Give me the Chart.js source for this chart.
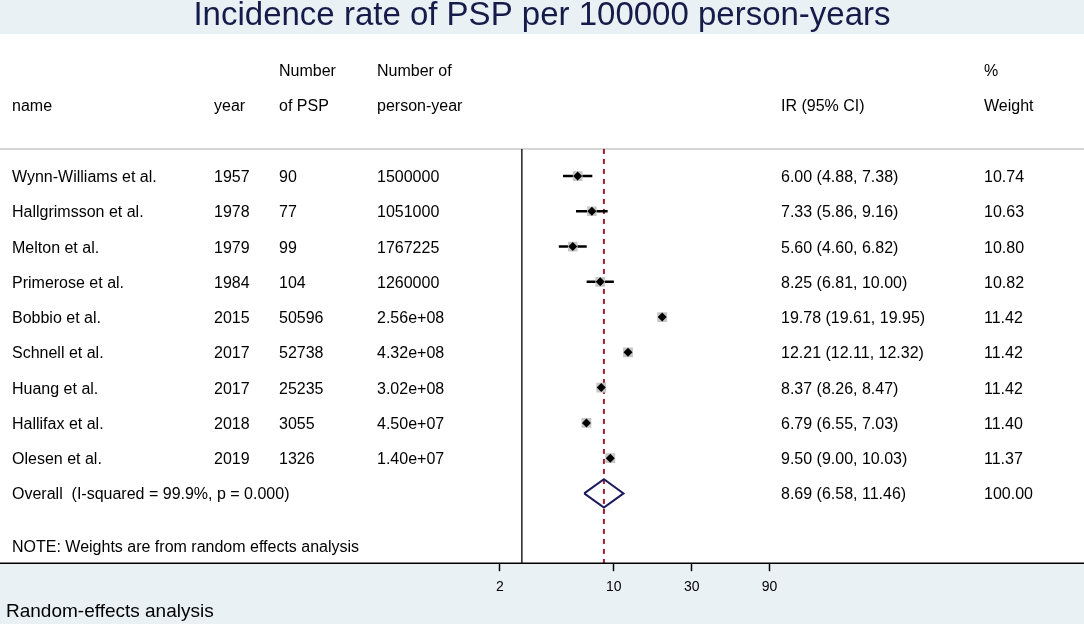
<!DOCTYPE html>
<html>
<head>
<meta charset="utf-8">
<script src="https://cdn.jsdelivr.net/npm/chart.js@4.4.1/dist/chart.umd.min.js"></script>
<style>
  html, body { margin: 0; padding: 0; background: #fff; }
  canvas { display: block; }
</style>
</head>
<body>
<canvas id="forest" width="1084" height="624"></canvas>
<script>
// 研究数据
const studies = ['Wynn-Williams et al.', 'Hallgrimsson et al.', 'Melton et al.', 'Primerose et al.', 'Bobbio et al.', 'Schnell et al.', 'Huang et al.', 'Hallifax et al.', 'Olesen et al.'];
const years = ['1957', '1978', '1979', '1984', '2015', '2017', '2017', '2018', '2019'];
const nPSP = ['90', '77', '99', '104', '50596', '52738', '25235', '3055', '1326'];
const personYears = ['1500000', '1051000', '1767225', '1260000', '2.56e+08', '4.32e+08', '3.02e+08', '4.50e+07', '1.40e+07'];
const ir = [6.00, 7.33, 5.60, 8.25, 19.78, 12.21, 8.37, 6.79, 9.50];
const ciLow = [4.88, 5.86, 4.60, 6.81, 19.61, 12.11, 8.26, 6.55, 9.00];
const ciHigh = [7.38, 9.16, 6.82, 10.00, 19.95, 12.32, 8.47, 7.03, 10.03];
const weights = [10.74, 10.63, 10.80, 10.82, 11.42, 11.42, 11.42, 11.40, 11.37];

// 合并结果
const overallIR = 8.69;
const overallLow = 6.58;
const overallHigh = 11.46;
const overallWeight = 100.00;
const overallLabel = 'Overall  (I-squared = 99.9%, p = 0.000)';
const noteLabel = 'NOTE: Weights are from random effects analysis';

// 坐标轴刻度
const xTicks = [2, 10, 30, 90];
const refLine = 2.73;

// 行位置 (行号)
const overallRow = studies.length;
const noteRow = overallRow + 1.5;
const headRow1 = -3;
const headRow2 = -2;
const ruleRow = -0.77;

const FONT = "'Liberation Sans', Arial, sans-serif";
const BAND = '#eaf1f4';

// 文字和背景
const decorPlugin = {
    id: 'decor',
    beforeDraw(chart) {
        const { ctx, chartArea, width, height } = chart;
        const ys = chart.scales.y;
        ctx.save();
        ctx.fillStyle = '#fff';
        ctx.fillRect(0, 0, width, height);
        ctx.fillStyle = BAND;
        ctx.fillRect(0, 0, width, chartArea.top);
        ctx.fillRect(0, chartArea.bottom, width, height - chartArea.bottom);

        // 标题
        ctx.fillStyle = '#161c4a';
        ctx.font = '33px ' + FONT;
        ctx.textAlign = 'center';
        ctx.textBaseline = 'alphabetic';
        ctx.fillText('Incidence rate of PSP per 100000 person-years', width / 2, 25);

        // 表头下的灰线
        const ry = ys.getPixelForValue(ruleRow);
        ctx.strokeStyle = '#c9c9c9';
        ctx.lineWidth = 1.5;
        ctx.beginPath();
        ctx.moveTo(0, ry);
        ctx.lineTo(width, ry);
        ctx.stroke();

        ctx.fillStyle = '#000';
        ctx.font = '16px ' + FONT;
        ctx.textAlign = 'left';
        ctx.textBaseline = 'middle';
        const put = (t, x, row) => ctx.fillText(t, x, ys.getPixelForValue(row) + 1.5);

        put('Number', 279, headRow1);
        put('Number of', 377, headRow1);
        put('%', 984, headRow1);
        put('name', 12, headRow2);
        put('year', 214, headRow2);
        put('of PSP', 279, headRow2);
        put('person-year', 377, headRow2);
        put('IR (95% CI)', 781, headRow2);
        put('Weight', 984, headRow2);

        studies.forEach((s, i) => {
            put(s, 12, i);
            put(years[i], 214, i);
            put(nPSP[i], 279, i);
            put(personYears[i], 377, i);
            put(`${ir[i].toFixed(2)} (${ciLow[i].toFixed(2)}, ${ciHigh[i].toFixed(2)})`, 781, i);
            put(weights[i].toFixed(2), 984, i);
        });
        put(overallLabel, 12, overallRow);
        put(`${overallIR.toFixed(2)} (${overallLow.toFixed(2)}, ${overallHigh.toFixed(2)})`, 781, overallRow);
        put(overallWeight.toFixed(2), 984, overallRow);
        put(noteLabel, 12, noteRow);

        // 底部说明
        ctx.font = '19px ' + FONT;
        ctx.textBaseline = 'alphabetic';
        ctx.fillText('Random-effects analysis', 6, 617);
        ctx.restore();
    },
    afterDraw(chart) {
        // 横轴线画满整个宽度
        const { ctx, chartArea, width } = chart;
        ctx.save();
        ctx.strokeStyle = '#000';
        ctx.lineWidth = 1.5;
        ctx.beginPath();
        ctx.moveTo(0, chartArea.bottom);
        ctx.lineTo(width, chartArea.bottom);
        ctx.stroke();
        ctx.restore();
    }
};

document.addEventListener('DOMContentLoaded', function() {
    const yMin = -4.03;
    const yMax = 10.98;
    const datasets = [];

    // 点估计 (黑色菱形)
    datasets.push({
        data: ir.map((v, i) => ({ x: v, y: i })),
        pointStyle: 'rectRot',
        pointRadius: 4.5,
        backgroundColor: '#000',
        borderWidth: 0
    });
    // 权重方框
    datasets.push({
        data: ir.map((v, i) => ({ x: v, y: i })),
        pointStyle: 'rect',
        pointRadius: weights.map(w => 7 * Math.sqrt(w / 11.42)),
        backgroundColor: '#c6c6c6',
        borderWidth: 0
    });
    // 合并菱形
    datasets.push({
        data: [
            { x: overallLow, y: overallRow },
            { x: overallIR, y: overallRow - 0.4 },
            { x: overallHigh, y: overallRow },
            { x: overallIR, y: overallRow + 0.4 },
            { x: overallLow, y: overallRow }
        ],
        showLine: true,
        borderColor: '#1a1a5c',
        borderWidth: 2,
        pointRadius: 0,
        tension: 0
    });
    // 置信区间
    studies.forEach((s, i) => {
        datasets.push({
            data: [{ x: ciLow[i], y: i }, { x: ciHigh[i], y: i }],
            showLine: true,
            borderColor: '#000',
            borderWidth: 2.5,
            pointRadius: 0
        });
    });
    // 合并效应虚线
    datasets.push({
        data: [{ x: overallIR, y: ruleRow }, { x: overallIR, y: yMax }],
        showLine: true,
        borderColor: '#a11c2e',
        borderWidth: 2,
        borderDash: [5, 5],
        pointRadius: 0
    });
    // 参考线
    datasets.push({
        data: [{ x: refLine, y: ruleRow }, { x: refLine, y: yMax }],
        showLine: true,
        borderColor: '#222',
        borderWidth: 1.5,
        pointRadius: 0
    });

    new Chart(document.getElementById('forest'), {
        type: 'scatter',
        data: { datasets: datasets },
        options: {
            responsive: false,
            animation: false,
            events: [],
            layout: { padding: { top: 34, bottom: 20, left: 0, right: 0 } },
            plugins: { legend: { display: false }, tooltip: { enabled: false } },
            scales: {
                x: {
                    type: 'logarithmic',
                    min: 0.00191,
                    max: 6890,
                    bounds: 'data',
                    afterBuildTicks: scale => {
                        scale.ticks = xTicks.map(v => ({ value: v }));
                    },
                    ticks: {
                        autoSkip: false,
                        maxRotation: 0,
                        padding: 8,
                        color: '#000',
                        font: { family: FONT, size: 14 },
                        callback: v => String(v)
                    },
                    grid: {
                        display: true,
                        drawOnChartArea: false,
                        drawTicks: true,
                        tickLength: 8,
                        tickWidth: 1.5,
                        tickColor: '#000'
                    },
                    border: { display: false }
                },
                y: {
                    type: 'linear',
                    display: false,
                    min: yMin,
                    max: yMax,
                    reverse: true
                }
            }
        },
        plugins: [decorPlugin]
    });
});
</script>
</body>
</html>
